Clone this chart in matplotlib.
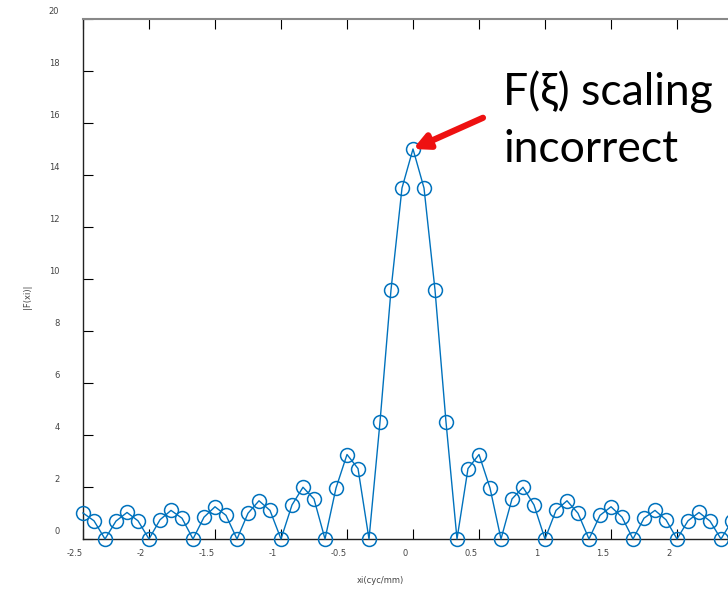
import numpy as np
import matplotlib
matplotlib.use("Agg")
import matplotlib.pyplot as plt
from matplotlib.transforms import ScaledTranslation

# frequency samples, 1/12 cyc/mm apart
xi = np.arange(-30, 30) / 12.0
# magnitude of the transform at each sample
Fmag = [1.00, 0.70, 0.00, 0.69, 1.02, 0.70, 0.00, 0.74, 1.10, 0.80,
        0.00, 0.84, 1.24, 0.91, 0.00, 0.99, 1.47, 1.10, 0.00, 1.31,
        1.99, 1.54, 0.00, 1.96, 3.25, 2.71, 0.00, 4.50, 9.58, 13.50,
        15.00, 13.50, 9.58, 4.50, 0.00, 2.71, 3.25, 1.96, 0.00, 1.54,
        1.99, 1.31, 0.00, 1.10, 1.47, 0.99, 0.00, 0.91, 1.24, 0.84,
        0.00, 0.80, 1.10, 0.74, 0.00, 0.70, 1.02, 0.69, 0.00, 0.70]
xticks = [-2.5, -2, -1.5, -1, -0.5, 0, 0.5, 1, 1.5, 2, 2.5]
xticklabels = ["-2.5", "-2", "-1.5", "-1", "-0.5", "0", "0.5", "1", "1.5", "2", ""]
yticks = list(range(0, 21, 2))

blue = "#0072BD"

fig = plt.figure(figsize=(7.28, 5.89), dpi=100)
ax = fig.add_axes([83/728, 50/589, 660/728, 520/589])
ax.plot(xi, Fmag, "-o", color=blue, lw=1.0, ms=10, mfc="none", mew=1.1,
        clip_on=False, zorder=3)

ax.set_xlim(-2.5, 2.5)
ax.set_ylim(0, 20)
ax.set_xticks(xticks)
ax.set_xticklabels(xticklabels)
ax.set_yticks(yticks)
ax.tick_params(direction="in", length=7, width=0.8, labelsize=6,
               labelcolor="#444444", top=True, right=True)
ax.tick_params(axis="x", pad=7)
ax.tick_params(axis="y", pad=17)
for s in ["left", "bottom"]:
    ax.spines[s].set_color("#222222")
    ax.spines[s].set_linewidth(1.0)
ax.spines["top"].set_color("#888888")
ax.spines["top"].set_linewidth(1.5)

# tick labels sit a little off their ticks
for lbl in ax.get_xticklabels():
    lbl.set_transform(lbl.get_transform() + ScaledTranslation(-0.08, 0, fig.dpi_scale_trans))
for lbl in ax.get_yticklabels():
    lbl.set_transform(lbl.get_transform() + ScaledTranslation(0, 0.08, fig.dpi_scale_trans))

ax.set_xlabel("xi(cyc/mm)", fontsize=6, color="#444444")
ax.xaxis.set_label_coords(0.45, -0.072)
ax.set_ylabel("|F(xi)|", fontsize=6, color="#444444")
ax.yaxis.set_label_coords(-0.078, 0.465)

# callout on the peak
ax.annotate("", xy=(0.0, 15.0), xytext=(0.53, 16.2),
            arrowprops=dict(arrowstyle="-|>,head_length=0.9,head_width=0.45",
                            color="#EE1111", lw=4.5, shrinkA=0, shrinkB=0),
            annotation_clip=False, zorder=5)
callout = dict(fontsize=32, family=["Lato", "Open Sans", "DejaVu Sans"],
               color="black", va="baseline", ha="left")
fig.text(503/728, 1 - 105/589, "F(\u03be) scaling", **callout)
fig.text(503/728, 1 - 162/589, "incorrect", **callout)

fig.savefig("out.png", dpi=100)
